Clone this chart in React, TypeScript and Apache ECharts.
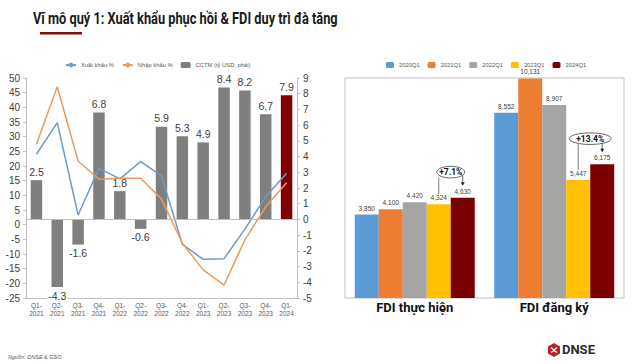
import React, { useEffect, useRef } from 'react';
import * as echarts from 'echarts';

const quarters = ['Q1-\n2021', 'Q2-\n2021', 'Q3-\n2021', 'Q4-\n2021', 'Q1-\n2022', 'Q2-\n2022', 'Q3-\n2022', 'Q4-\n2022', 'Q1-\n2023', 'Q2-\n2023', 'Q3-\n2023', 'Q4-\n2023', 'Q1-\n2024'];
const exportGrowth = [24, 34.8, 3.3, 19.2, 15.6, 21.5, 16.6, -6.7, -11.8, -11.6, -1.5, 9.5, 17.5];
const importGrowth = [27.4, 47, 21.7, 15.5, 15.8, 15.8, 8.7, -6.3, -15.4, -20.6, -5.2, 6.1, 14.3];
const tradeBalance = [2.5, -4.3, -1.6, 6.8, 1.8, -0.6, 5.9, 5.3, 4.9, 8.4, 8.2, 6.7, 7.9];
const leftTicks = { min: -25, max: 50, interval: 5 };
const rightTicks = { min: -5, max: 9, interval: 1 };

const fdiCategories = ['FDI thực hiện', 'FDI đăng ký'];
const fdiYears = ['2020Q1', '2021Q1', '2022Q1', '2023Q1', '2024Q1'];
const fdi2020 = [3850, 8552];
const fdi2021 = [4100, 10131];
const fdi2022 = [4420, 8907];
const fdi2023 = [4324, 5447];
const fdi2024 = [4630, 6175];
const fdiGrowth = ['+7.1%', '+13.4%'];

const title = 'Vĩ mô quý 1: Xuất khẩu phục hồi & FDI duy trì đà tăng';
const source = 'Nguồn: DNSE & GSO';

export default function App() {
  const ref = useRef<HTMLDivElement>(null);
  useEffect(() => {
    const chart = echarts.init(ref.current!, null, { renderer: 'svg' });
    const font = '"Liberation Sans", Arial, sans-serif';
    const axisColor = '#BFBFBF';
    const fdiData = [fdi2020, fdi2021, fdi2022, fdi2023, fdi2024];
    const fdiColors = ['#5B9BD5', '#ED7D31', '#A5A5A5', '#FFC000', '#7B0000'];
    const gapPct = 14;

    const option: any = {
      animation: false,
      textStyle: { fontFamily: font },
      legend: [
        {
          left: 60, top: 57, itemWidth: 10, itemHeight: 6, itemGap: 8,
          textStyle: { fontSize: 5.8, color: '#595959' },
          data: ['Xuất khẩu %', 'Nhập khẩu %', 'CCTM (tỷ USD, phải)'],
        },
        {
          left: 381, top: 57, itemWidth: 8, itemHeight: 6, itemGap: 8,
          textStyle: { fontSize: 5.8, color: '#595959' },
          data: fdiYears,
        },
      ],
      grid: [
        { left: 26, top: 78, width: 271, height: 220 },
        { left: 345, top: 78, width: 279, height: 220, show: true, borderColor: axisColor, borderWidth: 1, backgroundColor: 'transparent' },
      ],
      xAxis: [
        {
          type: 'category', gridIndex: 0, data: quarters,
          axisLine: { show: true, onZero: false, lineStyle: { color: axisColor } },
          axisTick: { show: false },
          axisLabel: { fontSize: 6.5, lineHeight: 8, color: '#595959', margin: 3, interval: 0 },
        },
        {
          type: 'category', gridIndex: 1, data: fdiCategories,
          axisLine: { show: false }, axisTick: { show: false },
          axisLabel: { fontSize: 13, fontWeight: 'bold', color: '#111', margin: 3, fontFamily: 'Roboto, sans-serif' },
        },
      ],
      yAxis: [
        {
          type: 'value', gridIndex: 0, ...leftTicks,
          axisLine: { show: true, lineStyle: { color: axisColor } },
          axisTick: { show: true, length: 3, lineStyle: { color: axisColor } },
          splitLine: { show: false },
          axisLabel: { fontSize: 10, color: '#404040', margin: 6 },
        },
        {
          type: 'value', gridIndex: 0, position: 'right', ...rightTicks,
          axisLine: { show: true, lineStyle: { color: axisColor } },
          axisTick: { show: true, length: 3, lineStyle: { color: axisColor } },
          splitLine: { show: false },
          axisLabel: { fontSize: 10, color: '#404040', margin: 6 },
        },
        { type: 'value', gridIndex: 1, min: 0, max: 10150, show: false, splitLine: { show: false } },
      ],
      series: [
        {
          name: 'CCTM (tỷ USD, phải)', type: 'bar', xAxisIndex: 0, yAxisIndex: 1, barWidth: '55%',
          itemStyle: { color: '#7F7F7F' },
          data: tradeBalance.map((v, i) => ({
            value: v,
            itemStyle: i === tradeBalance.length - 1 ? { color: '#800000' } : undefined,
            label: v < 0 ? { position: 'bottom', backgroundColor: '#fff', padding: [0, 1] } : undefined,
          })),
          label: { show: true, position: 'top', distance: 3, fontSize: 10.5, color: '#404040' },
          markLine: {
            silent: true, symbol: 'none', label: { show: false },
            lineStyle: { color: axisColor, width: 1, type: 'solid' },
            data: [{ yAxis: 0 }],
          },
          z: 1,
        },
        {
          name: 'Xuất khẩu %', type: 'line', xAxisIndex: 0, yAxisIndex: 0, data: exportGrowth,
          symbol: 'none', lineStyle: { color: '#6E9CC6', width: 1.5 }, itemStyle: { color: '#6E9CC6' }, z: 3,
        },
        {
          name: 'Nhập khẩu %', type: 'line', xAxisIndex: 0, yAxisIndex: 0, data: importGrowth,
          symbol: 'none', lineStyle: { color: '#EE9A5A', width: 1.5 }, itemStyle: { color: '#EE9A5A' }, z: 3,
        },
        ...fdiYears.map((name, i) => ({
          name, type: 'bar', xAxisIndex: 1, yAxisIndex: 2, data: fdiData[i],
          barGap: '0%', barCategoryGap: gapPct + '%',
          itemStyle: { color: fdiColors[i] },
          label: {
            show: true, position: 'top', distance: 3, fontSize: 6.5, color: '#404040',
            formatter: (p: any) => Number(p.value).toLocaleString('en-US'),
          },
        })),
      ],
    };
    chart.setOption(option);

    const c0 = chart.convertToPixel({ xAxisIndex: 1 } as any, 0) as number;
    const c1 = chart.convertToPixel({ xAxisIndex: 1 } as any, 1) as number;
    const band = c1 - c0;
    const area = band * (1 - gapPct / 100);
    const barW = area / fdiYears.length;
    const barX = (cat: number, i: number) => (chart.convertToPixel({ xAxisIndex: 1 } as any, cat) as number) - area / 2 + (i + 0.5) * barW;
    const yPx = (v: number) => chart.convertToPixel({ yAxisIndex: 2 } as any, v) as number;

    const ann: any[] = [];
    fdiCategories.forEach((_, cat) => {
      const x23 = barX(cat, 3);
      const x24 = barX(cat, 4);
      const t23 = yPx(fdi2023[cat]);
      const t24 = yPx(fdi2024[cat]);
      const cx = (x23 + x24) / 2;
      const cy = t24 - 25.5;
      const rx = cat === 0 ? 14 : 21;
      const ry = 5.8;
      ann.push(
        { type: 'line', shape: { x1: x23, y1: cy + ry - 0.5, x2: x23, y2: t23 - 10 }, style: { stroke: '#595959', lineWidth: 0.8 }, z: 10 },
        { type: 'line', shape: { x1: x24, y1: cy + 2, x2: x24, y2: t24 - 15 }, style: { stroke: '#404040', lineWidth: 0.8 }, z: 10 },
        { type: 'polygon', shape: { points: [[x24 - 2, t24 - 15.5], [x24 + 2, t24 - 15.5], [x24, t24 - 12]] }, style: { fill: '#222' }, z: 10 },
        { type: 'ellipse', shape: { cx, cy, rx, ry }, style: { fill: '#fff', stroke: '#404040', lineWidth: 0.8 }, z: 11 },
        { type: 'text', x: cx, y: cy, style: { text: fdiGrowth[cat], fill: '#111', font: 'bold 8.5px Roboto, sans-serif', textAlign: 'center', textVerticalAlign: 'middle' }, z: 12 },
      );
    });

    chart.setOption({
      graphic: [
        { type: 'text', left: 33, top: 11, scaleX: 0.8, style: { text: title, fill: '#1a1a1a', font: 'bold 16px Roboto, sans-serif' } },
        { type: 'rect', shape: { x: 40, y: 32, width: 42, height: 2.5 }, style: { fill: '#7B1010' } },
        { type: 'text', left: 8, top: 354, style: { text: source, fill: '#555', font: 'italic 5.5px "Liberation Sans", sans-serif' } },
        { type: 'polygon', shape: { points: [[554, 343], [560, 346.5], [560, 353.5], [554, 357], [548, 353.5], [548, 346.5]] }, style: { fill: '#B5232A' } },
        { type: 'polyline', shape: { points: [[551, 347.5], [554, 350], [557, 347.5]] }, style: { stroke: '#fff', lineWidth: 1.1, fill: 'none' } },
        { type: 'polyline', shape: { points: [[551, 352.5], [554, 350.5], [557, 352.5]] }, style: { stroke: '#fff', lineWidth: 1.1, fill: 'none' } },
        { type: 'text', left: 562, top: 343, style: { text: 'DNSE', fill: '#2b2b2b', font: 'bold 13px Roboto, sans-serif' } },
        ...ann,
      ],
    });

    return () => chart.dispose();
  }, []);
  return <div ref={ref} style={{ position: 'fixed', left: 0, top: 0, width: 640, height: 364, background: '#fff' }} />;
}
